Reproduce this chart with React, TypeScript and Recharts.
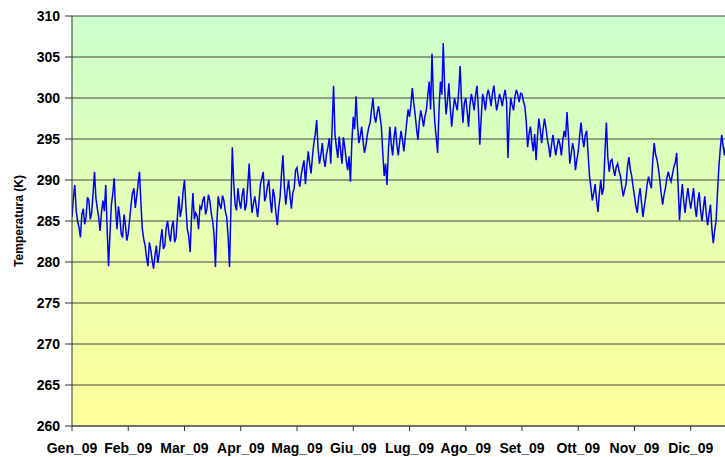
import React from 'react';
import { LineChart, Line, XAxis, YAxis, CartesianGrid } from 'recharts';

// Tick labels
const monthLabels = ['Gen_09', 'Feb_09', 'Mar_09', 'Apr_09', 'Mag_09', 'Giu_09', 'Lug_09', 'Ago_09', 'Set_09', 'Ott_09', 'Nov_09', 'Dic_09'];
const monthTicks = [0, 1, 2, 3, 4, 5, 6, 7, 8, 9, 10, 11];
const tempTicks = [260, 265, 270, 275, 280, 285, 290, 295, 300, 305, 310];

// Temperature readings (K), ~40 samples per month
const jan = [285.5, 287.8, 289.4, 286.2, 285, 284.2, 283, 285.8, 286.5, 284.6, 285.5, 287.9, 287.5, 285.2, 286, 288.4, 291, 287.8, 286.5, 285.4, 283.8, 286.1, 287.5, 286.2, 289.4, 284, 279.5, 283.5, 287, 288.3, 290.2, 286.5, 284, 286.8, 285.5, 283.4, 283, 285.8, 284.5, 282.6];
const feb = [283.5, 285.2, 287, 288.4, 289, 286.6, 288, 289.5, 291, 287.2, 284, 282.8, 282, 280.6, 279.5, 282.4, 281.5, 280.2, 279.2, 280.8, 282, 279.9, 281, 282.7, 284, 281.6, 282, 284.2, 285, 283.4, 282.5, 284.3, 285, 282.4, 283, 285.6, 288, 285.5, 286.5, 288.6];
const mar = [290, 286.8, 284, 283.2, 281.2, 285.5, 288.4, 285.2, 286, 285.6, 284, 286.8, 286.5, 287.5, 288, 285.8, 286.5, 288.2, 287.5, 286, 285, 283.4, 279.4, 284.8, 288, 287, 286.5, 288.1, 287.5, 286.2, 285.5, 283.1, 279.4, 286.5, 294, 289.6, 287, 286.3, 289, 287.4];
const apr = [286.5, 288.2, 289, 286.3, 287, 289.4, 292, 288.4, 286, 287.1, 288, 286.8, 285.5, 287.4, 289.5, 290.2, 291, 287.4, 288, 289.3, 290, 287.5, 286, 288.9, 288, 286, 284.5, 286.6, 288, 290.8, 293, 289.2, 287, 288.6, 290, 288.1, 286.5, 288.4, 289, 291.2];
const may = [291.5, 290.1, 289.2, 290.6, 291.6, 292.4, 289.5, 291.7, 293.5, 292, 290.8, 292.9, 294.5, 295.6, 297.3, 293.8, 292, 293.1, 294.5, 292.6, 291.6, 293.2, 294, 295.1, 292, 296.5, 301.5, 295.6, 294, 292.7, 295.3, 293.6, 292, 295.2, 294, 292.4, 291.2, 292.9, 289.8, 294.6];
const jun = [297.7, 296.2, 300.2, 296.8, 294.5, 295.4, 296.5, 294.7, 293.3, 294.2, 295.5, 296.4, 297, 298.6, 300, 297.8, 297, 298.2, 299, 297.8, 296.5, 293.3, 290.5, 292, 289.4, 293.6, 296.5, 294.4, 293, 295.2, 296.5, 294.3, 293, 294.6, 296, 294.9, 293.5, 295.2, 297, 298.6];
const jul = [297.7, 299.2, 301.2, 299.4, 298, 296.3, 294.9, 297.1, 298.5, 297.6, 296.5, 297.8, 298.5, 300.3, 302, 298.6, 305.4, 300.1, 297, 295.2, 293.3, 298.6, 302, 300.4, 306.7, 301.2, 298, 299.6, 301.8, 298.8, 296.5, 298.4, 300, 299.2, 298.5, 300.8, 303.9, 299.6, 297, 299.4];
const aug = [300, 298.4, 296.5, 299.2, 300.5, 299.6, 298.5, 300.4, 301.5, 298.6, 294.3, 297.6, 300.5, 299.7, 298.5, 300.3, 301, 300.2, 299, 300.6, 301.5, 299.8, 298.5, 299.4, 300.5, 299.9, 299, 300.2, 301, 299.6, 292.7, 297.5, 300, 299.1, 298.5, 300.2, 301, 300.4, 299.5, 300.6];
const sep = [300.5, 299.6, 299, 297.2, 294, 295.6, 296.5, 294.8, 293.5, 295.6, 292.4, 295.3, 297.5, 296.1, 294.5, 296.2, 297.5, 296.4, 295, 294.1, 292.8, 294.3, 295.5, 294.2, 293, 294.1, 295, 294.3, 293, 294.8, 296, 295.2, 298.3, 295.4, 292, 293.2, 294.5, 293.6, 291.2, 292.5];
const oct = [293.5, 295.4, 297, 295.1, 294, 295.5, 296, 293.2, 290.5, 289.1, 287.5, 288.4, 289.5, 287.6, 286.1, 288.3, 290, 288.2, 289, 293.4, 297, 292.8, 291, 292.3, 292.5, 291.4, 290.5, 291.6, 292, 291.1, 290.5, 289.2, 288, 288.8, 289.5, 291.6, 292.8, 291.3, 290.5, 289.2];
const nov = [288, 286.8, 286, 287.9, 289, 287.2, 285.5, 286.8, 288, 289.5, 290.4, 289.6, 289, 292.4, 294.5, 293.1, 292.5, 291.4, 290, 288.3, 287, 288.2, 289, 290.2, 291, 290.3, 289.8, 290.7, 291.6, 292.1, 293.3, 289.4, 285.1, 287.6, 289.5, 287.4, 286, 287.8, 289, 287.6];
const dec = [286.5, 287.8, 289, 286.7, 285.5, 287.4, 288.5, 286.3, 285, 286.6, 288, 285.9, 284.5, 285.8, 287, 284.1, 282.3, 283.8, 285, 288.4, 291.6, 293.8, 295.5, 294.2, 293, 294.4];

const monthSeries = [jan, feb, mar, apr, may, jun, jul, aug, sep, oct, nov, dec];
const SAMPLES_PER_MONTH = 40;

const data = monthSeries.flatMap((arr, m) =>
  arr.map((v, i) => ({ t: m + i / SAMPLES_PER_MONTH, temp: v }))
);

const FONT = "'Liberation Sans', Arial, Helvetica, sans-serif";

export default function App() {
  return (
    <div
      style={{
        position: 'fixed',
        left: 0,
        top: 0,
        width: 725,
        height: 457,
        overflow: 'hidden',
        background: '#ffffff',
      }}
    >
      <LineChart
        width={760}
        height={457}
        data={data}
        margin={{ top: 16, right: 13, left: 0, bottom: 0 }}
      >
        <defs>
          <linearGradient id="bgGrad" x1="0" y1="0" x2="0" y2="1">
            <stop offset="0" stopColor="#CCFFCC" />
            <stop offset="1" stopColor="#FFFF99" />
          </linearGradient>
        </defs>
        <CartesianGrid
          vertical={false}
          stroke="#444444"
          strokeWidth={1}
          fill="url(#bgGrad)"
          fillOpacity={1}
        />
        <XAxis
          dataKey="t"
          type="number"
          domain={[0, 12]}
          ticks={monthTicks}
          interval={0}
          allowDataOverflow
          height={31}
          tickFormatter={(v: number) => monthLabels[v] ?? ''}
          axisLine={{ stroke: '#707070', strokeWidth: 2 }}
          tickLine={{ stroke: '#333333' }}
          tickSize={5}
          tickMargin={12}
          tick={{ fill: '#000000', fontSize: 14, fontWeight: 'bold', fontFamily: FONT }}
        />
        <YAxis
          type="number"
          domain={[260, 310]}
          ticks={tempTicks}
          interval={0}
          width={72}
          allowDataOverflow
          axisLine={{ stroke: '#333333' }}
          tickLine={{ stroke: '#333333' }}
          tickSize={7}
          tickMargin={5}
          tick={{ fill: '#000000', fontSize: 14, fontWeight: 'bold', fontFamily: FONT }}
          label={{
            value: 'Temperatura (K)',
            angle: -90,
            position: 'insideLeft',
            offset: 19,
            style: { textAnchor: 'middle', fontWeight: 'bold', fontSize: 12, fill: '#000000', fontFamily: FONT },
          }}
        />
        <Line
          type="linear"
          dataKey="temp"
          stroke="#0000FF"
          strokeWidth={1.5}
          dot={false}
          activeDot={false}
          isAnimationActive={false}
        />
      </LineChart>
    </div>
  );
}
